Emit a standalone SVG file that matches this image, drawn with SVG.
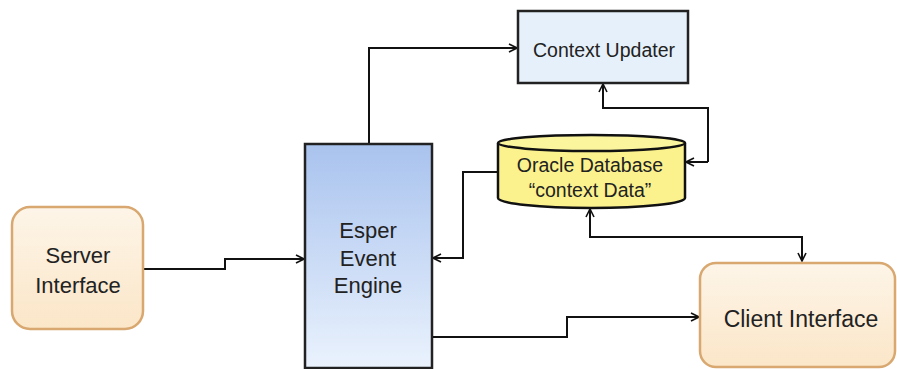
<svg xmlns="http://www.w3.org/2000/svg" width="897" height="369" viewBox="0 0 897 369">
<defs>
<linearGradient id="gEsper" x1="0" y1="0" x2="0" y2="1">
<stop offset="0" stop-color="#A9C3EE"/>
<stop offset="1" stop-color="#EAF2FD"/>
</linearGradient>
<linearGradient id="gCream" x1="0" y1="0" x2="0" y2="1">
<stop offset="0" stop-color="#FDF5E8"/>
<stop offset="1" stop-color="#FBE6C8"/>
</linearGradient>
<marker id="arr" viewBox="0 0 10 10" refX="9" refY="5" markerWidth="10" markerHeight="10" markerUnits="userSpaceOnUse" orient="auto">
<path d="M1,1 L9,5 L1,9" fill="none" stroke="#111" stroke-width="1.6"/>
</marker>
<style>
.t{font-family:"Liberation Sans",Arial,sans-serif;fill:#222;text-anchor:middle}
.big{font-size:22px}
.sm{font-size:19.5px}
.edge{fill:none;stroke:#111;stroke-width:2}
.round{fill:url(#gCream);stroke:#D8A870;stroke-width:2.5}
</style>
</defs>
<rect width="897" height="369" fill="#fff"/>
<g id="connectors">
<path class="edge" d="M143,269 H225 V259 H304" marker-end="url(#arr)"/>
<path class="edge" d="M369,144 V48 H517" marker-end="url(#arr)"/>
<path class="edge" d="M708,162 V108 H603 V84" marker-end="url(#arr)"/>
<path class="edge" d="M708,162 H686" marker-end="url(#arr)"/>
<path class="edge" d="M497,172 H463 V258 H433" marker-end="url(#arr)"/>
<path class="edge" d="M696,237 H590 V209" marker-end="url(#arr)"/>
<path class="edge" d="M696,237 H802 V261" marker-end="url(#arr)"/>
<path class="edge" d="M432,337 H567 V317 H699" marker-end="url(#arr)"/>
</g>
<g id="server">
<rect class="round" x="12" y="207" width="131" height="122" rx="18"/>
<text class="t big" x="78" y="263">Server</text>
<text class="t big" x="78" y="293">Interface</text>
</g>
<g id="esper">
<rect x="305" y="144" width="127" height="224" fill="url(#gEsper)" stroke="#222" stroke-width="2.5"/>
<text class="t big" x="368" y="238">Esper</text>
<text class="t big" x="368" y="266">Event</text>
<text class="t big" x="368" y="293">Engine</text>
</g>
<g id="updater">
<rect x="518" y="11" width="170" height="72" fill="#E6F0FA" stroke="#222" stroke-width="2.5"/>
<text class="t sm" x="604" y="57">Context Updater</text>
</g>
<g id="database">
<path d="M498,143 V198 A93.5,10 0 0 0 685,198 V143" fill="#FBF28E" stroke="#111" stroke-width="2.5"/>
<ellipse cx="591.5" cy="143" rx="93.5" ry="8" fill="#FBF59E" stroke="#111" stroke-width="2.5"/>
<text class="t sm" x="590" y="172">Oracle Database</text>
<text class="t sm" x="590" y="197">“context Data”</text>
</g>
<g id="client">
<rect class="round" x="700" y="263" width="195" height="104" rx="16"/>
<text class="t" x="801" y="327" style="font-size:23px">Client Interface</text>
</g>
</svg>
